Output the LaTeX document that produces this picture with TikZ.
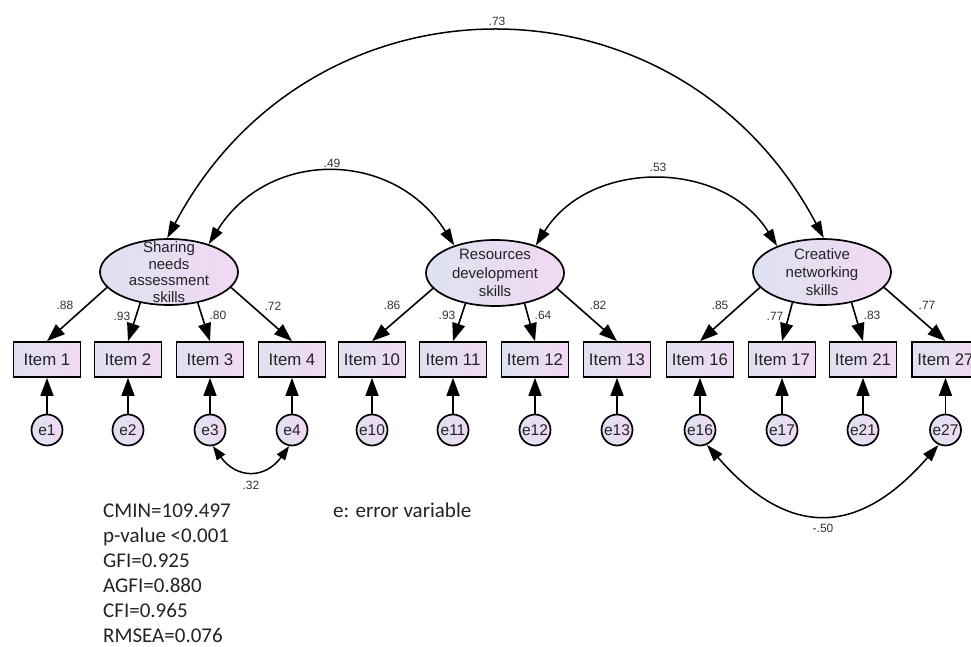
\documentclass[tikz,border=0pt]{standalone}
\usepackage{fontspec}
\setmainfont{Liberation Sans}
\newfontfamily\fitfont{Carlito}
\usetikzlibrary{shapes.geometric,arrows.meta}
\definecolor{gA}{RGB}{222,226,240}
\definecolor{gB}{RGB}{241,216,243}
\definecolor{txt}{RGB}{35,35,35}
\begin{document}
\begin{tikzpicture}[x=1pt,y=-1pt,
  latent/.style={ellipse, draw, line width=1.7pt, left color=gA, right color=gB,
    minimum width=138pt, minimum height=66pt, inner sep=0pt},
  obs/.style={rectangle, draw, line width=1.7pt, left color=gA, right color=gB,
    minimum width=67pt, minimum height=35pt, inner sep=0pt,
    font=\fontsize{16.8}{19}\selectfont, text=txt},
  err/.style={circle, draw, line width=1.7pt, left color=gA, right color=gB,
    minimum size=31pt, inner sep=0pt, font=\fontsize{15.5}{18}\selectfont, text=txt},
  coef/.style={font=\fontsize{12}{14}\selectfont, text=black!80, inner sep=0pt},
  arr/.style={line width=1.6pt, -{Triangle[length=18pt,width=13pt]}},
  cov/.style={line width=1.5pt, {Triangle[length=17pt,width=11pt]}-{Triangle[length=17pt,width=11pt]}},
  covs/.style={line width=1.5pt, {Triangle[length=14pt,width=10pt]}-{Triangle[length=14pt,width=10pt]}},
  lattext/.style={font=\fontsize{15}{#1}\selectfont, align=center, text=txt}
]
\useasboundingbox (0,0) rectangle (971,647);
\clip (0,0) rectangle (971,647);

% latent variables
\node[latent, label={[lattext=16.5]center:Sharing\\needs\\assessment\\skills}] (S) at (169,272) {};
\node[latent, label={[lattext=18.3]center:Resources\\development\\skills}] (R) at (495,273) {};
\node[latent, label={[lattext=18.3]center:Creative\\networking\\skills}] (C) at (822,272) {};

% observed items
\node[obs] (i1)  at (47,359.5)  {Item 1};
\node[obs] (i2)  at (128,359.5) {Item 2};
\node[obs] (i3)  at (210,359.5) {Item 3};
\node[obs] (i4)  at (292,359.5) {Item 4};
\node[obs] (i10) at (372,359.5) {Item 10};
\node[obs] (i11) at (453,359.5) {Item 11};
\node[obs] (i12) at (535,359.5) {Item 12};
\node[obs] (i13) at (617,359.5) {Item 13};
\node[obs] (i16) at (700,359.5) {Item 16};
\node[obs] (i17) at (782,359.5) {Item 17};
\node[obs] (i21) at (863,359.5) {Item 21};
\node[obs] (i27) at (945.5,359.5) {Item 27};

% error variables
\foreach \n/\x in {1/47,2/128,3/210,4/292,10/372,11/453,12/535,13/617,16/700,17/782,21/863,27/945.5}{
  \node[err] (e\n) at (\x,430) {e\n};
  \draw[arr] (e\n) -- (i\n);
}

% loadings
\draw[arr] (S.194) -- (i1.north);
\draw[arr] (S.227) -- (i2.north);
\draw[arr] (S.313) -- (i3.north);
\draw[arr] (S.346) -- (i4.north);
\draw[arr] (R.194) -- (i10.north);
\draw[arr] (R.226) -- (i11.north);
\draw[arr] (R.314) -- (i12.north);
\draw[arr] (R.346) -- (i13.north);
\draw[arr] (C.194) -- (i16.north);
\draw[arr] (C.226) -- (i17.north);
\draw[arr] (C.314) -- (i21.north);
\draw[arr] (C.346) -- (i27.north);

\node[coef] at (65,305) {.88};
\node[coef] at (122,316) {.93};
\node[coef] at (218,315) {.80};
\node[coef] at (273,306) {.72};
\node[coef] at (392,305) {.86};
\node[coef] at (447,315) {.93};
\node[coef] at (543,315) {.64};
\node[coef] at (598,305) {.82};
\node[coef] at (720,305) {.85};
\node[coef] at (775,316) {.77};
\node[coef] at (872,315) {.83};
\node[coef] at (927,305) {.77};

% covariances
\draw[cov] (S.93) .. controls +(145,-274) and +(-145,-274) .. (C.87);
\draw[cov] (S.35) .. controls +(60,-96) and +(-60,-96) .. (R.146);
\draw[cov] (R.34) .. controls +(54,-87) and +(-54,-87) .. (C.150);
\draw[covs] (e3.-80) .. controls +(24,33) and +(-24,33) .. (e4.-100);
\draw[cov] (e16.-65) .. controls +(81,93) and +(-81,93) .. (e27.-115);

\node[coef] at (497,21) {.73};
\node[coef] at (332,163) {.49};
\node[coef] at (658,167) {.53};
\node[coef] at (251,485) {.32};
\node[coef] at (823,528) {-.50};

% fit indices
\foreach \t [count=\k from 0] in {CMIN=109.497, p-value <0.001, GFI=0.925, AGFI=0.880, CFI=0.965, RMSEA=0.076}{
  \node[anchor=base west, inner sep=0pt, font=\fitfont\fontsize{21}{25}\selectfont, text=txt] (fit\k) at (103,{517+25*\k}) {\t};
}
\node[anchor=base west, inner sep=0pt, font=\fitfont\fontsize{21}{25}\selectfont, text=txt] (note) at (333,517) {e: error variable};
\end{tikzpicture}
\end{document}
